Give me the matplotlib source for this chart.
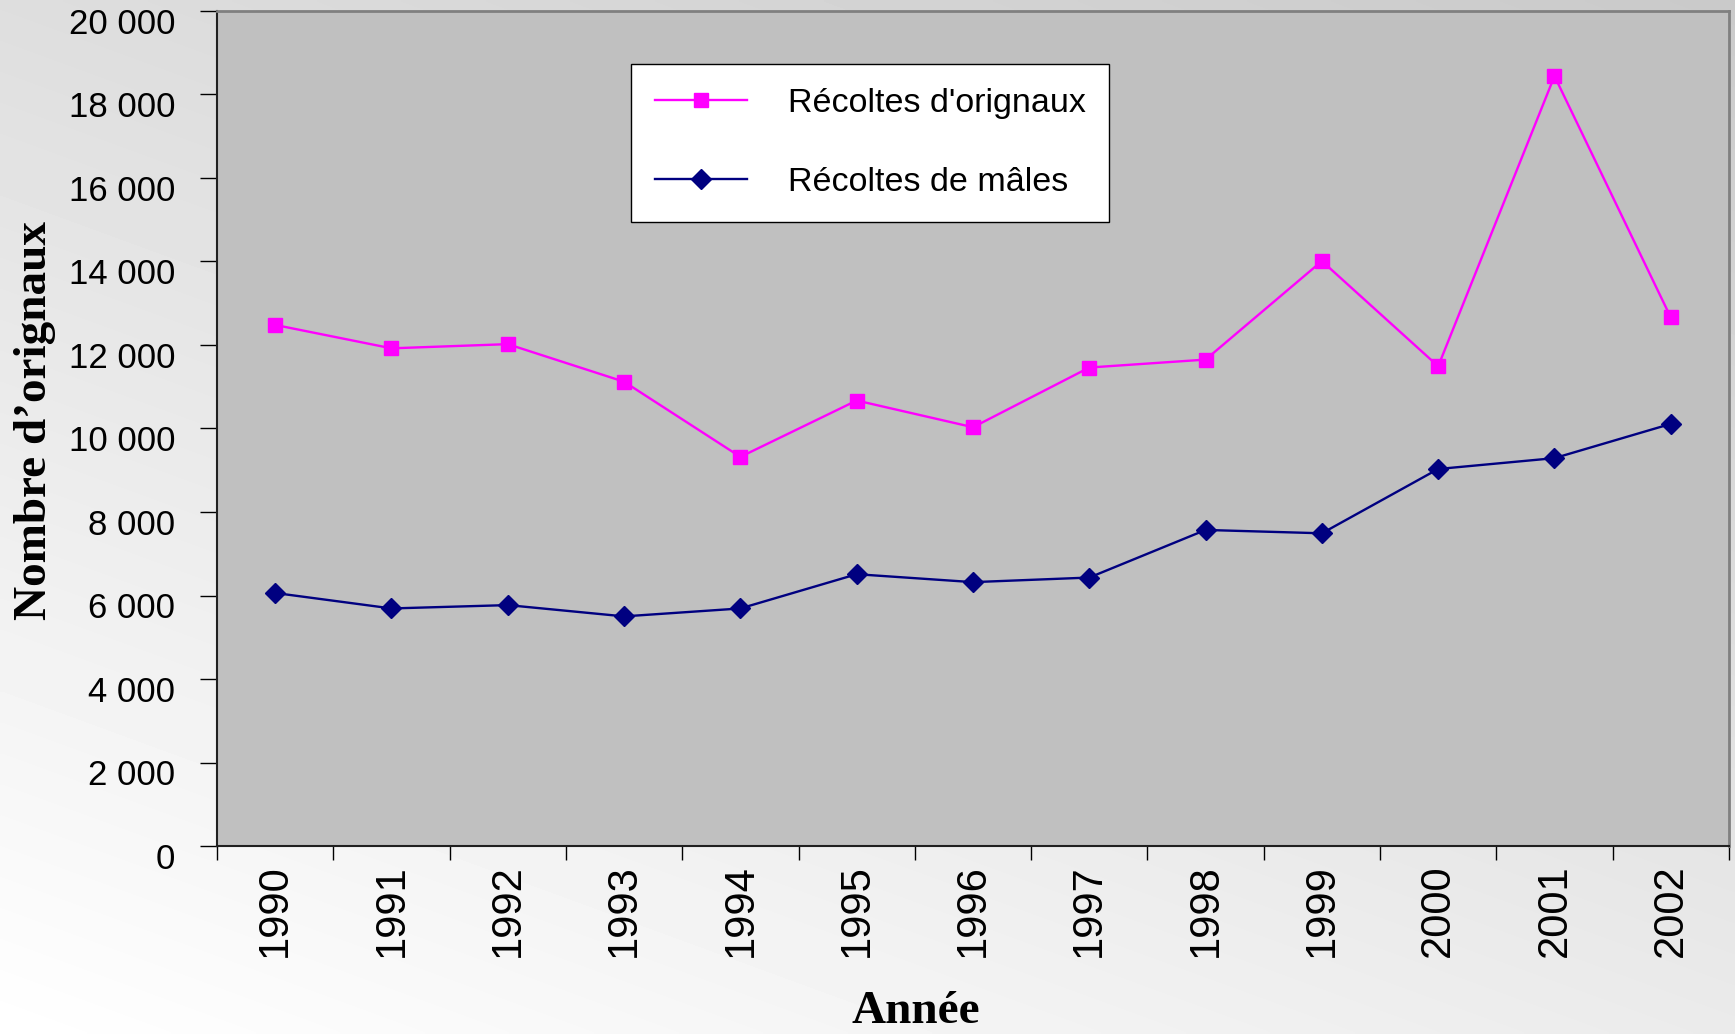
import matplotlib
matplotlib.use('Agg')
import matplotlib.pyplot as plt
import matplotlib.transforms as mtransforms
import numpy as np

years = ['1990', '1991', '1992', '1993', '1994', '1995', '1996',
         '1997', '1998', '1999', '2000', '2001', '2002']
recoltes_orignaux = [12480, 11920, 12020, 11120, 9320, 10670, 10030,
                     11460, 11650, 14010, 11490, 18440, 12660]
recoltes_males = [6060, 5690, 5770, 5500, 5690, 6510, 6320,
                  6430, 7570, 7490, 9030, 9290, 10110]
y_ticks = [0, 2000, 4000, 6000, 8000, 10000, 12000, 14000, 16000, 18000, 20000]
y_tick_labels = ['0', '2 000', '4 000', '6 000', '8 000', '10 000', '12 000',
                 '14 000', '16 000', '18 000', '20 000']

plt.rcParams['font.family'] = ['Liberation Sans', 'DejaVu Sans']

fig = plt.figure(figsize=(17.35, 10.34), dpi=100)

# slide-like gray gradient behind everything
bg = fig.add_axes([0, 0, 1, 1], zorder=-10)
u = np.linspace(0, 1, 400)
w = np.linspace(1, 0, 300)
U, W = np.meshgrid(u, w)
shade = 1.0 - 0.13 * W - 0.08 * U
bg.imshow(shade, cmap='gray', vmin=0, vmax=1, aspect='auto',
          extent=[0, 1, 0, 1], interpolation='bilinear')
bg.set_axis_off()

ax = fig.add_axes([0.1251, 0.1818, 0.8714, 0.8076])
ax.set_facecolor('#c0c0c0')

x = np.arange(len(years))
ax.plot(x, recoltes_orignaux, color='#ff00ff', linewidth=1.7, marker='s',
        markersize=10.5, label="Récoltes d'orignaux")
ax.plot(x, recoltes_males, color='#000080', linewidth=1.7, marker='D',
        markersize=10, label='Récoltes de mâles')

ax.set_xlim(-0.5, len(years) - 0.5)
ax.set_ylim(0, 20000)

# category boundaries as major ticks, labels centred as minor ticks
ax.set_xticks(np.arange(-0.5, len(years)), labels=[''] * (len(years) + 1))
ax.set_xticks(x, labels=years, minor=True)
ax.tick_params(axis='x', which='major', direction='out', length=10, width=1)
ax.tick_params(axis='x', which='minor', length=0, pad=13, labelsize=30,
               labelrotation=90)

ax.set_yticks(y_ticks, labels=y_tick_labels)
ax.tick_params(axis='y', direction='out', length=12, width=1, pad=18,
               labelsize=25)
offset = mtransforms.ScaledTranslation(0, -7 / 72, fig.dpi_scale_trans)
for lab in ax.get_yticklabels():
    lab.set_transform(lab.get_transform() + offset)

for side in ['left', 'bottom']:
    ax.spines[side].set_color('#202020')
    ax.spines[side].set_linewidth(1.5)
for side in ['top', 'right']:
    ax.spines[side].set_color('#808080')
    ax.spines[side].set_linewidth(2)

ax.set_ylabel('Nombre d\u2019orignaux', fontsize=34, fontweight='bold',
              family=['Liberation Serif', 'DejaVu Serif'])
ax.yaxis.label.set_va('center')
ax.yaxis.set_label_coords(-0.1205, 0.51)
ax.set_xlabel('Année', fontsize=34, fontweight='bold',
              family=['Liberation Serif', 'DejaVu Serif'])
ax.xaxis.label.set_va('center')
ax.xaxis.set_label_coords(0.462, -0.199)

leg = ax.legend(loc='upper left', bbox_to_anchor=(631 / 1735, 1 - 64 / 1034),
                bbox_transform=fig.transFigure, borderaxespad=0,
                fontsize=24.5, fancybox=False, framealpha=1, edgecolor='black',
                handlelength=2.7, handletextpad=1.2, labelspacing=1.42,
                borderpad=0.7)
leg.get_frame().set_linewidth(1)

fig.savefig('out.png', dpi=100)
